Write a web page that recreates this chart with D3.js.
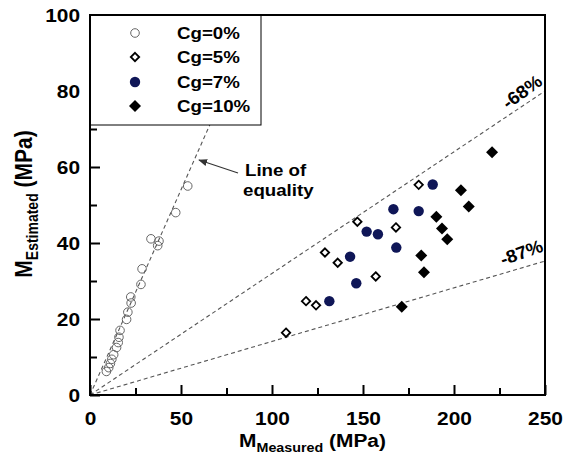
<!DOCTYPE html>
<html><head><meta charset="utf-8">
<script src="https://cdn.jsdelivr.net/npm/d3@7"></script>
<style>
body{margin:0;background:#fff;}
svg{display:block;font-family:"Liberation Sans",Arial,sans-serif;}
</style></head>
<body>
<svg id="chart" width="566" height="462"></svg>
<script>
// ---- data ----
const seriesNames = ["Cg=0%","Cg=5%","Cg=7%","Cg=10%"];
const cg0 = [[9.0,6.2],[10.3,7.2],[11.2,8.3],[12.0,9.4],[13.0,10.6],[14.6,12.5],[15.5,13.8],[15.9,15.2],[16.5,17.0],[20.1,19.9],[20.8,21.8],[22.6,24.2],[22.4,25.8],[28.0,29.1],[28.6,33.2],[33.5,41.1],[37.2,39.3],[37.9,40.5],[47.1,48.0],[53.7,55.0]];
const cg5 = [[180.6,55.3],[146.9,45.6],[168.1,44.1],[129.1,37.5],[136.1,34.8],[157.0,31.2],[118.7,24.7],[124.2,23.6],[107.7,16.4]];
const cg7 = [[188.3,55.4],[166.7,48.9],[180.6,48.4],[152.0,43.0],[158.2,42.3],[168.3,38.8],[142.9,36.4],[146.3,29.4],[131.5,24.7]];
const cg10 = [[220.9,63.9],[203.8,53.9],[208.1,49.6],[190.3,46.9],[193.4,43.8],[196.3,41.0],[182.0,36.7],[183.5,32.3],[171.3,23.2]];
const xMajor = [0,50,100,150,200,250];
const xMinor = [25,75,125,175,225];
const yMajor = [0,20,40,60,80,100];
const yMinor = [10,30,50,70,90];
// reference lines: slope, end x (MPa)
const refLines = [{slope:1.08,xEnd:70,label:""},{slope:0.32,xEnd:250,label:"-68%"},{slope:0.141,xEnd:250,label:"-87%"}];

// ---- layout ----
const svg = d3.select("#chart");
const L=90,R=545,T=15,B=395;
const x = d3.scaleLinear().domain([0,250]).range([L,R]);
const y = d3.scaleLinear().domain([0,100]).range([B,T]);
const navy = "#0f1657";
const SX = 1.1;

const defs = svg.append("defs");
defs.append("clipPath").attr("id","clip")
  .append("rect").attr("x",L).attr("y",T).attr("width",R-L).attr("height",B-T);
const mk = defs.append("marker").attr("id","arr")
  .attr("viewBox","0 0 10 10").attr("refX",9).attr("refY",5)
  .attr("markerWidth",9).attr("markerHeight",9).attr("orient","auto")
  .attr("markerUnits","userSpaceOnUse");
mk.append("path").attr("d","M0,1 L10,5 L0,9 Z").attr("fill","#333");

// reference lines
const gl = svg.append("g").attr("clip-path","url(#clip)");
refLines.forEach(r=>{
  gl.append("line")
    .attr("x1",x(0)).attr("y1",y(0))
    .attr("x2",x(r.xEnd)).attr("y2",y(r.xEnd*r.slope))
    .attr("stroke","#555").attr("stroke-width",1.1).attr("stroke-dasharray","4,3");
});

// points
const gp = svg.append("g");
gp.selectAll(".c0").data(cg0).join("circle")
  .attr("cx",d=>x(d[0])).attr("cy",d=>y(d[1])).attr("r",4.3)
  .attr("fill","none").attr("stroke","#666").attr("stroke-width",1);
const dia = s => `M0,${-s} L${s},0 L0,${s} L${-s},0 Z`;
gp.selectAll(".c5").data(cg5).join("path")
  .attr("transform",d=>`translate(${x(d[0])},${y(d[1])})`)
  .attr("d",dia(4.2)).attr("fill","#fff").attr("stroke","#000").attr("stroke-width",1.8);
gp.selectAll(".c7").data(cg7).join("circle")
  .attr("cx",d=>x(d[0])).attr("cy",d=>y(d[1])).attr("r",5.2).attr("fill",navy);
gp.selectAll(".c10").data(cg10).join("path")
  .attr("transform",d=>`translate(${x(d[0])},${y(d[1])})`)
  .attr("d",dia(6)).attr("fill","#000");

// axes
const ax = svg.append("g").attr("transform",`translate(0,${B})`)
  .call(d3.axisBottom(x).tickValues(xMajor).tickSize(-10).tickPadding(17).tickFormat(d3.format("d")));
svg.append("g").attr("transform",`translate(0,${B})`)
  .call(d3.axisBottom(x).tickValues(xMinor).tickSize(-7).tickFormat(""));
const ay = svg.append("g").attr("transform",`translate(${L},0)`)
  .call(d3.axisLeft(y).tickValues(yMajor).tickSize(-10).tickPadding(9).tickFormat(d3.format("d")));
svg.append("g").attr("transform",`translate(${L},0)`)
  .call(d3.axisLeft(y).tickValues(yMinor).tickSize(-7).tickFormat(""));
svg.selectAll(".domain").remove();
svg.selectAll(".tick line").attr("stroke","#000").attr("stroke-width",2);
svg.selectAll(".tick text").attr("font-size",19).attr("font-weight","bold")
  .attr("fill","#000").attr("font-family","Liberation Sans, Arial, sans-serif");
ax.selectAll(".tick text").attr("transform",`scale(${SX},1)`);
ay.selectAll(".tick text").attr("transform",`scale(${SX},1)`);

// frame
svg.append("rect").attr("x",L).attr("y",T).attr("width",R-L).attr("height",B-T)
  .attr("fill","none").attr("stroke","#000").attr("stroke-width",2);

// legend
const lg = svg.append("g");
lg.append("rect").attr("x",L).attr("y",T).attr("width",171).attr("height",110)
  .attr("fill","#fff").attr("stroke","#000").attr("stroke-width",1);
lg.append("path").attr("d",`M${L},${T}H${L+171}`).attr("stroke","#000").attr("stroke-width",2);
lg.append("path").attr("d",`M${L},${T}V${T+110}`).attr("stroke","#000").attr("stroke-width",2);
const ly = [33,57,82,106];
lg.append("circle").attr("cx",135).attr("cy",ly[0]).attr("r",4.3).attr("fill","none").attr("stroke","#666");
lg.append("path").attr("transform",`translate(135,${ly[1]})`).attr("d",dia(4.2)).attr("fill","#fff").attr("stroke","#000").attr("stroke-width",1.8);
lg.append("circle").attr("cx",135).attr("cy",ly[2]).attr("r",5.2).attr("fill",navy);
lg.append("path").attr("transform",`translate(135,${ly[3]})`).attr("d",dia(6)).attr("fill","#000");
seriesNames.forEach((s,i)=>{
  lg.append("text").attr("transform",`translate(177,${ly[i]+6}) scale(${SX},1)`)
    .attr("font-size",17).attr("font-weight","bold").text(s);
});

// annotation: line of equality
svg.append("line").attr("x1",238).attr("y1",173).attr("x2",199).attr("y2",160)
  .attr("stroke","#333").attr("stroke-width",1.3).attr("marker-end","url(#arr)");
svg.append("text").attr("transform",`translate(245,176) scale(${SX},1)`)
  .attr("font-size",17).attr("font-weight","bold").text("Line of");
svg.append("text").attr("transform",`translate(243,196) scale(${SX},1)`)
  .attr("font-size",17).attr("font-weight","bold").text("equality");

// line labels
svg.append("text").attr("transform",`translate(523,93) rotate(-36) scale(1.05,1)`)
  .attr("text-anchor","middle").attr("dominant-baseline","middle")
  .attr("font-size",18).attr("font-weight","bold").text(refLines[1].label);
svg.append("text").attr("transform",`translate(522,254) rotate(-20) scale(1.05,1)`)
  .attr("text-anchor","middle").attr("dominant-baseline","middle")
  .attr("font-size",18).attr("font-weight","bold").text(refLines[2].label);

// axis titles
const xt = svg.append("text").attr("transform",`translate(${(L+R)/2 - 5},447) scale(${SX},1)`)
  .attr("text-anchor","middle").attr("font-weight","bold").attr("font-size",19);
xt.append("tspan").text("M");
xt.append("tspan").attr("font-size",13).attr("dy",5).text("Measured");
xt.append("tspan").attr("dy",-5).text(" (MPa)");
const yt = svg.append("text").attr("transform",`translate(32,204) scale(1.15,1) rotate(-90)`)
  .attr("text-anchor","middle").attr("font-weight","bold").attr("font-size",21);
yt.append("tspan").text("M");
yt.append("tspan").attr("font-size",14).attr("dy",5).text("Estimated");
yt.append("tspan").attr("dy",-5).text(" (MPa)");
</script>
</body></html>
